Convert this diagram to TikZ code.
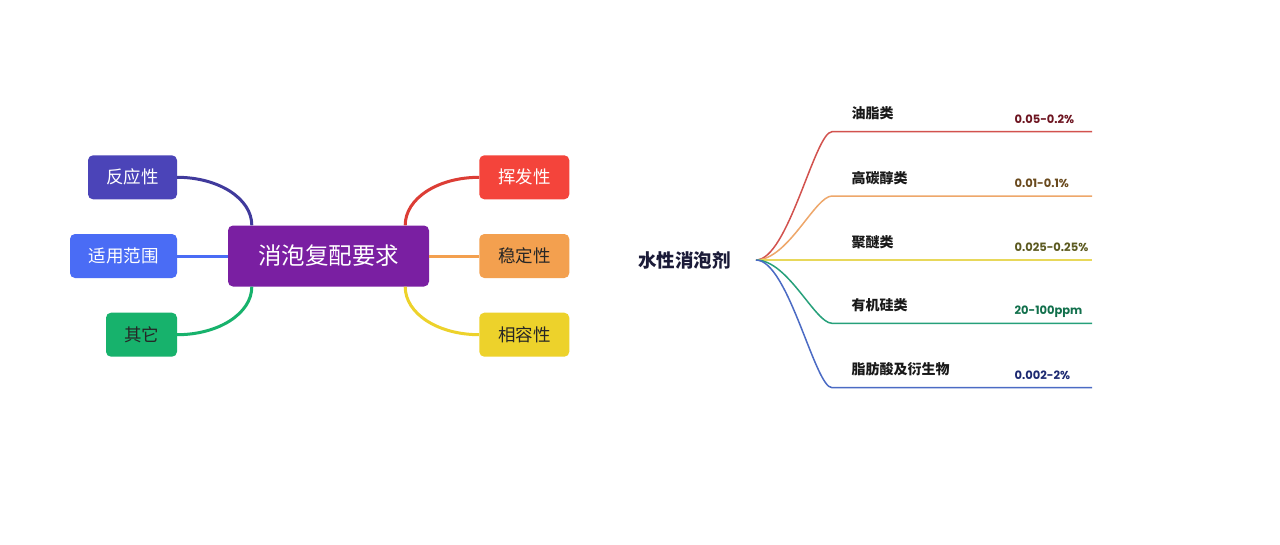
\documentclass[tikz,border=0pt]{standalone}
\usepackage{fontspec}
\usepackage{xcolor}
\newfontfamily\cjk{Noto Sans CJK SC}
\newfontfamily\numfont{Poppins}
\usetikzlibrary{calc,
	positioning}
\definecolor{reqpurple}{HTML}{7A1FA2}
\definecolor{indigobox}{HTML}{4B44B8}
\definecolor{bluebox}{HTML}{4A6CF5}
\definecolor{greenbox}{HTML}{17B26C}
\definecolor{redbox}{HTML}{F4443B}
\definecolor{orangebox}{HTML}{F3A04F}
\definecolor{yellowbox}{HTML}{EDD22B}
\definecolor{rootnavy}{HTML}{1B1B38}
\definecolor{twigred}{HTML}{D2524E}
\definecolor{twigorange}{HTML}{EEA76A}
\definecolor{twigyellow}{HTML}{E8D85A}
\definecolor{twiggreen}{HTML}{26A07A}
\definecolor{twigblue}{HTML}{4B6BC4}
\definecolor{dosered}{HTML}{6D1420}
\definecolor{dosebrown}{HTML}{6A4A1E}
\definecolor{doseolive}{HTML}{5C5A20}
\definecolor{dosegreen}{HTML}{12704C}
\definecolor{dosenavy}{HTML}{1D2A72}
\tikzset{
	reqbox/.style={rounded corners=5pt, inner sep=0pt, minimum height=44pt,
		font=\cjk\fontsize{17.5}{17.5}\selectfont},
	link/.style={line width=3pt},
	twig/.style={line width=1.5pt},
	kind/.style={anchor=base west, text=black!90, font=\cjk\bfseries\fontsize{14}{14}\selectfont},
	dose/.style={anchor=base west, font=\numfont\bfseries\fontsize{11.5}{11.5}\selectfont}
}

\begin{document}
\begin{tikzpicture}[x=1pt, y=-1pt]
            \useasboundingbox[fill=white] (0,0) rectangle (1280,544);
            % left: requirements map
            \node[reqbox, fill=reqpurple, text=white, minimum width=201pt, minimum height=61pt,
                font=\cjk\fontsize{23.5}{23.5}\selectfont] (req) at (328.5,256) {消泡复配要求};
            \node[reqbox, fill=indigobox, text=white, minimum width=89pt] (react) at (132.5,177.3) {反应性};
            \node[reqbox, fill=bluebox, text=white, minimum width=107pt] (scope) at (123.5,256) {适用范围};
            \node[reqbox, fill=greenbox, text=black!85, minimum width=71pt] (other) at (141.5,334.7) {其它};
            \node[reqbox, fill=redbox, text=white, minimum width=90pt] (volat) at (524.3,177.3) {挥发性};
            \node[reqbox, fill=orangebox, text=black!85, minimum width=90pt] (stab) at (524.3,256) {稳定性};
            \node[reqbox, fill=yellowbox, text=black!85, minimum width=90pt] (compat) at (524.3,334.7) {相容性};
            \draw[link, indigobox!85!black] (react.east) .. controls +(41,0) and +(0,-27) .. ($(req.north west)+(24,0)$);
            \draw[link, bluebox] (scope.east) -- (req.west);
            \draw[link, greenbox] (other.east) .. controls +(41,0) and +(0,27) .. ($(req.south west)+(24,0)$);
            \draw[link, redbox!90!black] (volat.west) .. controls +(-41,0) and +(0,-27) .. ($(req.north east)+(-24,0)$);
            \draw[link, orangebox] (stab.west) -- (req.east);
            \draw[link, yellowbox] (compat.west) .. controls +(-41,0) and +(0,27) .. ($(req.south east)+(-24,0)$);
            % right: kinds of defoamer
            \node[text=rootnavy, font=\cjk\bfseries\fontsize{18.5}{18.5}\selectfont] (foam) at (684.5,260) {水性消泡剂};
            \coordinate (hub) at (756,260);
            \coordinate (oil) at (832,131.7);
            \coordinate (alc) at (832,196);
            \coordinate (pol) at (832,260);
            \coordinate (sil) at (832,323.3);
            \coordinate (fat) at (832,387.7);
            \draw[twig, twigred] (hub) .. controls (788,260) and (815,131.7) .. (oil) -- (1092,131.7);
            \draw[twig, twigorange] (hub) .. controls (788,260) and (815,196) .. (alc) -- (1092,196);
            \draw[twig, twigyellow] (hub) -- (pol) -- (1092,260);
            \draw[twig, twiggreen] (hub) .. controls (788,260) and (815,323.3) .. (sil) -- (1092,323.3);
            \draw[twig, twigblue] (hub) .. controls (788,260) and (815,387.7) .. (fat) -- (1092,387.7);
            \node[kind] (oilname) at ($(oil)+(16,-13)$) {油脂类};
            \node[kind] (alcname) at ($(alc)+(16,-13)$) {高碳醇类};
            \node[kind] (polname) at ($(pol)+(16,-13)$) {聚醚类};
            \node[kind] (silname) at ($(sil)+(16,-13)$) {有机硅类};
            \node[kind] (fatname) at ($(fat)+(16,-13)$) {脂肪酸及衍生物};
            \node[dose, text=dosered] (oildose) at ($(oil)+(179,-8.5)$) {0.05-0.2\%};
            \node[dose, text=dosebrown] (alcdose) at ($(alc)+(179,-8.5)$) {0.01-0.1\%};
            \node[dose, text=doseolive] (poldose) at ($(pol)+(179,-8.5)$) {0.025-0.25\%};
            \node[dose, text=dosegreen] (sildose) at ($(sil)+(179,-8.5)$) {20-100ppm};
            \node[dose, text=dosenavy] (fatdose) at ($(fat)+(179,-8.5)$) {0.002-2\%};
        \end{tikzpicture}
\end{document}
